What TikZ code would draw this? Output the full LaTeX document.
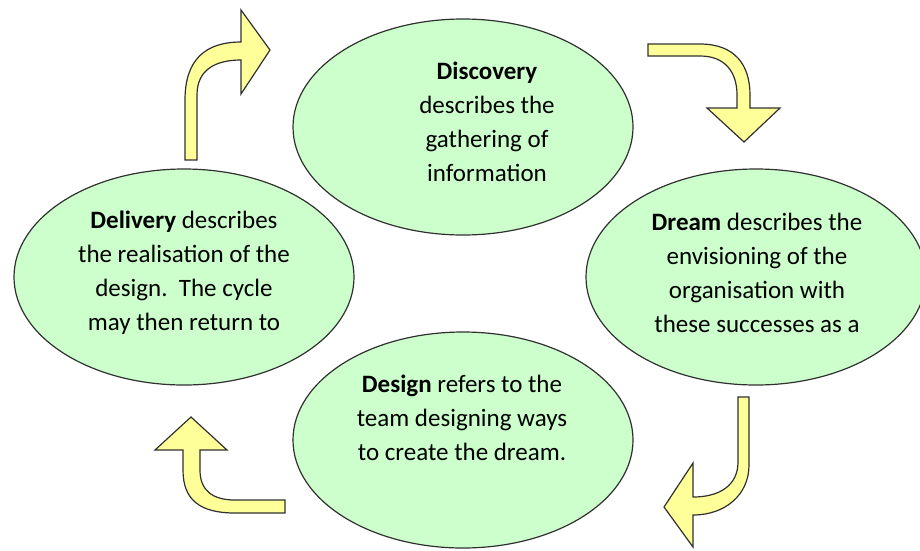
\documentclass[tikz,border=0pt]{standalone}
\usepackage{fontspec}
\setmainfont{Carlito}
\usetikzlibrary{shapes.geometric}
\definecolor{bubble}{HTML}{CCFFCC}
\definecolor{arrowfill}{HTML}{FFFF99}
\definecolor{edge}{HTML}{303030}
\tikzset{
  bubble/.style={ellipse, draw=edge, fill=bubble, line width=1.2pt, minimum width=340pt, minimum height=216pt, inner sep=0pt},
  bubbletext/.style={align=center, font=\fontsize{25}{34}\selectfont, text=black, inner sep=0pt},
  bentarrow/.style={draw=edge, fill=arrowfill, line width=1.2pt, line join=miter}
}
\begin{document}
\begin{tikzpicture}[x=1pt, y=-1pt]
\path[use as bounding box] (0,0) rectangle (920,550);
% ellipses
\node[bubble] (disc) at (463,127) {};
\node[bubble] (del) at (184,277) {};
\node[bubble] (drm) at (756,277) {};
\node[bubble] (des) at (463,440) {};
% texts
\node[bubbletext] (discT) at (487,122) {\textbf{Discovery}\\describes the\\gathering of\\information};
\node[bubbletext] (delT) at (184,273) {\textbf{Delivery} describes\\the realisation of the\\design.\ \ The cycle\\may then return to};
\node[bubbletext] (drmT) at (757,273) {\textbf{Dream} describes the\\envisioning of the\\organisation with\\these successes as a};
\node[bubbletext] (desT) at (462,418) {\textbf{Design} refers to the\\team designing ways\\to create the dream.};
% arrows
\draw[bentarrow] (185,160) -- (185,100) .. controls (185,60) and (205,42) .. (241,42)
  -- (241,10) -- (270,50) -- (241,94) -- (241,60)
  .. controls (215,60) and (197,70) .. (197,95) -- (197,160) -- cycle;
\draw[bentarrow] (648,44) -- (700,44) .. controls (735,44) and (750,65) .. (750,95)
  -- (750,108) -- (780,108) -- (744,142) -- (707,108) -- (737,108) -- (737,95)
  .. controls (737,72) and (725,56) .. (700,56) -- (648,56) -- cycle;
\draw[bentarrow] (738,397) -- (749,397) -- (749,465) .. controls (749,495) and (725,515) .. (693,515)
  -- (693,547) -- (664,507) -- (693,463) -- (693,497)
  .. controls (720,497) and (738,485) .. (738,462) -- cycle;
\draw[bentarrow] (183,450) -- (183,470) .. controls (183,500) and (200,513) .. (235,513)
  -- (285,513) -- (285,500) -- (235,500) .. controls (212,500) and (200,490) .. (200,470)
  -- (200,450) -- (227,450) -- (191,417) -- (155,450) -- cycle;
\end{tikzpicture}
\end{document}
